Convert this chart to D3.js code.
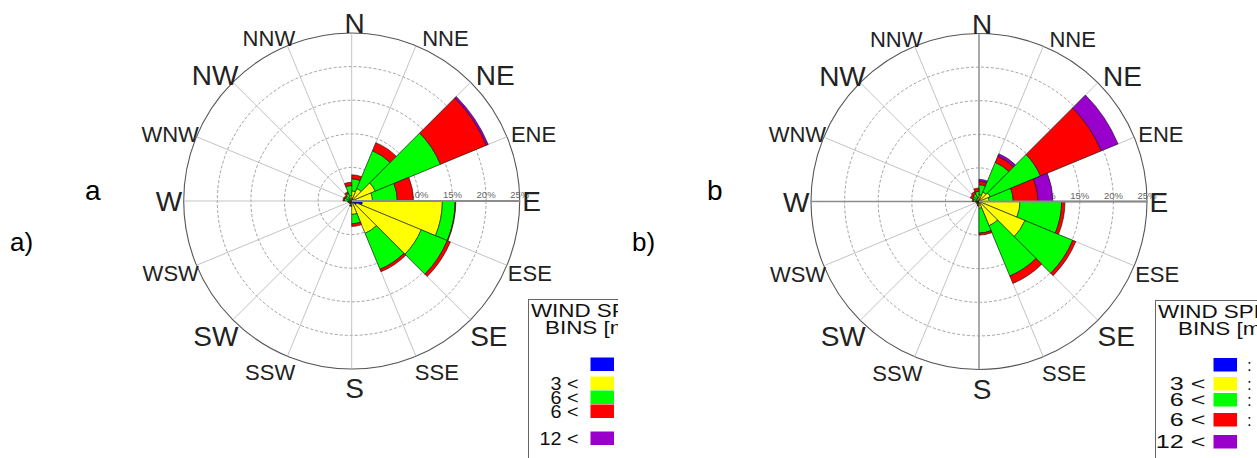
<!DOCTYPE html>
<html>
<head>
<meta charset="utf-8">
<script src="https://cdn.jsdelivr.net/npm/d3@7"></script>
<style>
  body { margin: 0; background: #fff; }
  svg { display: block; }
  text { font-family: "Liberation Sans", Arial, sans-serif; }
</style>
</head>
<body>
<svg id="chart" width="1257" height="458"></svg>
<script>
// Compass sectors, clockwise from north; sector k spans [k*22.5°, (k+1)*22.5°]
const directions = ["N","NNE","NE","ENE","E","ESE","SE","SSE","S","SSW","SW","WSW","W","WNW","NW","NNW"];
const binColors = ["#0000ff", "#ffff00", "#00ff00", "#ff0000", "#9900cc"];
const legendLeftText = ["", "3 <", "6 <", "6 <", "12 <"];
const legendRightText = [":", ":", ":", ":", ""];
const legendTitle = ["WIND SPEED", "BINS [m/s]"];
const radialTicks = [5, 10, 15, 20, 25];

// Frequency of occurrence (%) per sector for each wind speed bin — rose a
const a_bin1 = [0.3, 0.3, 0.3, 0.4, 1.6, 0.8, 0.4, 0.2, 0.2, 0.1, 0.1, 0.1, 0.1, 0.1, 0.1, 0.2];
const a_bin2 = [1.2, 1.7, 3.5, 2.7, 11.9, 10.4, 4.8, 1.8, 0.2, 0.1, 0.1, 0.2, 0.3, 0.3, 0.4, 0.6];
const a_bin3 = [1.8, 6.1, 10.5, 3.7, 1.9, 4.2, 5.8, 1.4, 0.3, 0.2, 0.1, 0.2, 0.7, 0.6, 0.7, 1.5];
const a_bin4 = [0.6, 1.3, 7.4, 2.4, 0.1, 0.5, 0.4, 0.4, 0.1, 0.1, 0.1, 0.1, 0.2, 0.2, 0.3, 0.5];
const a_bin5 = [0.0, 0.0, 0.3, 0.0, 0.0, 0.0, 0.0, 0.0, 0.0, 0.0, 0.0, 0.0, 0.0, 0.0, 0.0, 0.0];

// Frequency of occurrence (%) per sector for each wind speed bin — rose b
const b_bin1 = [0.2, 0.2, 0.2, 0.2, 0.3, 0.3, 0.2, 0.2, 0.1, 0.1, 0.1, 0.1, 0.1, 0.1, 0.1, 0.1];
const b_bin2 = [0.8, 1.3, 1.6, 1.3, 5.8, 7.1, 3.7, 0.8, 0.2, 0.1, 0.1, 0.1, 0.2, 0.3, 0.4, 0.5];
const b_bin3 = [1.5, 4.8, 8.1, 3.6, 6.2, 7.7, 8.1, 3.7, 0.3, 0.2, 0.1, 0.2, 0.5, 0.6, 0.7, 0.9];
const b_bin4 = [0.5, 1.0, 9.8, 3.7, 0.5, 0.5, 1.2, 0.3, 0.1, 0.1, 0.1, 0.1, 0.2, 0.4, 0.4, 0.5];
const b_bin5 = [0.3, 0.4, 2.7, 2.2, 0.0, 0.0, 0.0, 0.0, 0.0, 0.0, 0.0, 0.0, 0.0, 0.0, 0.0, 0.0];

const svg = d3.select("#chart");
const R = 168;
const rScale = d3.scaleLinear().domain([0, 25]).range([0, R]);
const step = 2 * Math.PI / directions.length;

svg.append("defs").append("clipPath").attr("id", "clipA")
  .append("rect").attr("x", 0).attr("y", 0).attr("width", 618).attr("height", 458);

function drawRose(g, cx, cy, series, opts) {
  const rose = g.append("g").attr("transform", `translate(${cx},${cy})`);

  // dashed rings, solid outer ring
  rose.selectAll("circle.ring").data(radialTicks.slice(0, -1)).join("circle")
    .attr("class", "ring").attr("r", d => rScale(d))
    .attr("fill", "none").attr("stroke", "#8a8a8a").attr("stroke-width", 0.8)
    .attr("stroke-dasharray", "3,2");
  rose.append("circle").attr("r", rScale(25))
    .attr("fill", "none").attr("stroke", "#555").attr("stroke-width", 1.1);

  // direction spokes
  rose.selectAll("line.spoke").data(directions).join("line")
    .attr("class", "spoke")
    .attr("x1", 0).attr("y1", 0)
    .attr("x2", (d, i) => Math.sin(i * step) * R)
    .attr("y2", (d, i) => -Math.cos(i * step) * R)
    .attr("stroke", (d, i) => (opts.darkCross && i % 4 === 0) ? "#8c8c8c" : "#b4b4b4")
    .attr("stroke-width", (d, i) => (opts.darkCross && i % 4 === 0) ? 1.5 : 0.8);

  // radial tick labels along the east axis
  rose.selectAll("text.tick").data(radialTicks).join("text")
    .attr("class", "tick")
    .attr("x", d => rScale(d)).attr("y", -3)
    .attr("text-anchor", "middle")
    .attr("font-size", 9.5).attr("fill", "#666")
    .text(d => d + "%");

  // stacked sector wedges
  const stacked = [];
  directions.forEach((dir, k) => {
    let acc = 0;
    series.forEach((s, b) => {
      const v = s[k];
      if (v > 0) stacked.push({ k, b, r0: acc, r1: acc + v });
      acc += v;
    });
  });
  const arc = d3.arc()
    .innerRadius(d => rScale(d.r0)).outerRadius(d => rScale(d.r1))
    .startAngle(d => d.k * step).endAngle(d => (d.k + 1) * step);
  rose.selectAll("path.wedge").data(stacked).join("path")
    .attr("class", "wedge").attr("d", arc)
    .attr("fill", d => binColors[d.b])
    .attr("stroke", "#111").attr("stroke-width", 0.6);

  // radial axis line
  rose.append("line").attr("x1", 0).attr("y1", 0).attr("x2", R).attr("y2", 0)
    .attr("stroke", "#8c8c8c").attr("stroke-width", 2);

  // compass labels around the outer ring
  directions.forEach((dir, i) => {
    const th = i * step;
    const s = Math.sin(th), c = Math.cos(th);
    const major = i % 2 === 0;
    const fs = major ? 28 : 22;
    const cap = fs * 0.716;
    let px, anchor;
    if (Math.abs(s) < 0.01) { px = s * R + 3; anchor = "middle"; }
    else if (s > 0) { px = s * R + 2.5 + 4 * c; anchor = "start"; }
    else { px = s * R - 1.5 + 10 * Math.abs(c); anchor = "end"; }
    let py = -c * R - c * cap / 2;
    if (c < -0.1) py += 9 * Math.min(1, -c * 1.5);
    rose.append("text")
      .attr("x", px).attr("y", py + cap / 2)
      .attr("text-anchor", anchor)
      .attr("font-size", fs).attr("fill", "#222")
      .text(dir);
  });
}

// horizontally widened text, as set in the legend box
function wideText(parent, x, y, str, size, sx, anchor) {
  parent.append("g").attr("transform", `translate(${x},${y}) scale(${sx},1)`)
    .append("text").attr("x", 0).attr("y", 0)
    .attr("text-anchor", anchor || "start")
    .attr("font-size", size).attr("fill", "#111")
    .text(str);
}

function drawLegend(g, x, y, lay) {
  const lg = g.append("g").attr("transform", `translate(${x},${y})`);
  lg.append("rect").attr("x", 0).attr("y", 0).attr("width", 160).attr("height", 200)
    .attr("fill", "#fff").attr("stroke", "#666").attr("stroke-width", 1);
  wideText(lg, 2.5, 17.5, legendTitle[0], 17.5, 1.28);
  wideText(lg, lay.binsX, 34, legendTitle[1], 17.5, 1.28);
  binColors.forEach((col, b) => {
    const ty = lay.rows[b];
    lg.append("rect").attr("x", lay.swX).attr("y", ty).attr("width", 23.5).attr("height", 13.5)
      .attr("fill", col);
    wideText(lg, lay.swX - lay.labGap, ty + 13, legendLeftText[b], 18, lay.rowSx, "end");
    lg.append("text").attr("x", lay.swX + 33.5).attr("y", ty + 12.5)
      .attr("font-size", 17).attr("fill", "#111")
      .text(legendRightText[b]);
  });
}

// panel a
const gA = svg.append("g").attr("clip-path", "url(#clipA)");
drawRose(gA, 351.7, 201, [a_bin1, a_bin2, a_bin3, a_bin4, a_bin5], { darkCross: false });
drawLegend(gA, 528.5, 299.5, { binsX: 16.5, swX: 62, labGap: 12, rowSx: 1.1, rows: [58, 77, 91, 105, 132] });
gA.append("text").attr("x", 85).attr("y", 200).attr("font-size", 28).attr("fill", "#000").text("a");
gA.append("text").attr("x", 10).attr("y", 251).attr("font-size", 26).attr("fill", "#000").text("a)");

// panel b
const gB = svg.append("g");
drawRose(gB, 979, 201.5, [b_bin1, b_bin2, b_bin3, b_bin4, b_bin5], { darkCross: true });
drawLegend(gB, 1155.5, 300.5, { binsX: 22.5, swX: 58, labGap: 8, rowSx: 1.4, rows: [57.5, 76.5, 92.5, 112.5, 134.5] });
gB.append("text").attr("x", 707).attr("y", 200).attr("font-size", 28).attr("fill", "#000").text("b");
gB.append("text").attr("x", 632).attr("y", 251).attr("font-size", 26).attr("fill", "#000").text("b)");
</script>
</body>
</html>
